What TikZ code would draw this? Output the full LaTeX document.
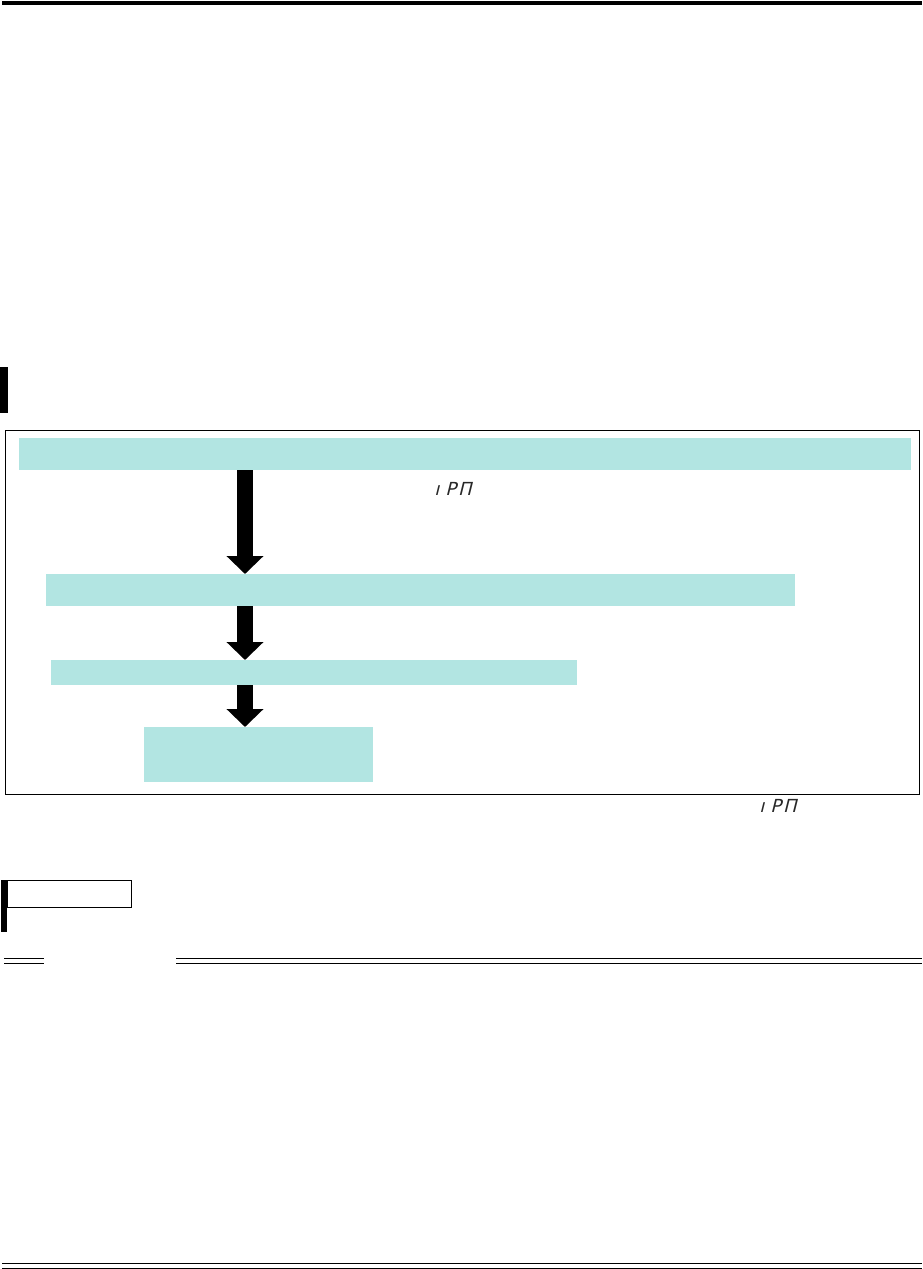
\documentclass[tikz,border=0pt]{standalone}
\usepackage{fontspec}
\usetikzlibrary{arrows.meta}
\newfontfamily\segfont{DejaVu Sans}[FakeSlant=0.25]
\definecolor{boxcyan}{RGB}{178,229,226}
\definecolor{segink}{RGB}{40,40,40}
\tikzset{
  cbox/.style={fill=boxcyan, draw=none, inner sep=0pt, anchor=north west},
  bigarrow/.style={line width=16pt, line cap=butt, -{Triangle[width=36pt,length=18pt]}},
  seg/.style={font=\segfont\fontsize{18}{18}\selectfont, text=segink, inner sep=0pt},
}
\begin{document}
\begin{tikzpicture}[x=1pt,y=-1pt]
\useasboundingbox (0,0) rectangle (922,1269);
% top rule
\fill[black] (2,1) rectangle (922,5);
% section marker
\fill[black] (0,367) rectangle (8,413);
% frame
\node[draw=black, line width=1.3pt, inner sep=0pt, minimum width=914pt, minimum height=364pt, anchor=north west] (frame) at (5,430) {};
% boxes
\node[cbox, minimum width=892pt, minimum height=32pt] (b1) at (19,438) {};
\node[cbox, minimum width=749pt, minimum height=32pt] (b2) at (46,574) {};
\node[cbox, minimum width=526pt, minimum height=25pt] (b3) at (51,660) {};
\node[cbox, minimum width=229pt, minimum height=55pt] (b4) at (144,727) {};
% arrows
\coordinate (col) at (245,0);
\draw[bigarrow] (b1.south -| col) -- (b2.north -| col);
\draw[bigarrow] (b2.south -| col) -- (b3.north -| col);
\draw[bigarrow] (b3.south -| col) -- (b4.north -| col);
% 7-seg labels
\node[seg] (l1) at (453,489) {ı\hspace{6pt}P\hspace{2pt}Π};
\node[seg] (l2) at (778,806) {ı\hspace{6pt}P\hspace{2pt}Π};
% small label box
\fill[black] (1,880) rectangle (7,932);
\node[draw=black, line width=1pt, inner sep=0pt, minimum width=124pt, minimum height=27pt, anchor=north west] (tag) at (7,880) {};
% double rule with gap
\draw[line width=1pt] (4,958.7) -- (44,958.7) (176,958.7) -- (922,958.7);
\draw[line width=1pt] (4,963.3) -- (44,963.3) (176,963.3) -- (922,963.3);
% bottom double rule
\draw[line width=1pt] (2,1263) -- (922,1263);
\draw[line width=1pt] (2,1268) -- (922,1268);
\end{tikzpicture}
\end{document}
